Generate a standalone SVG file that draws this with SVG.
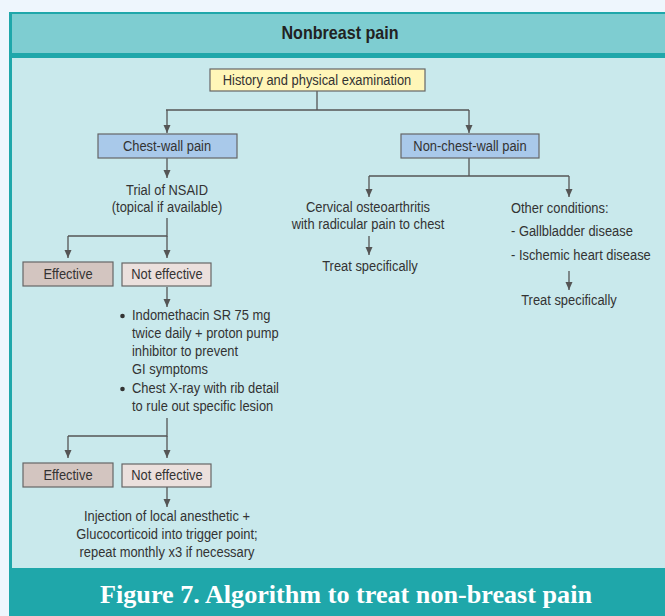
<svg xmlns="http://www.w3.org/2000/svg" width="665" height="616" viewBox="0 0 665 616">
<defs>
<marker id="ah" viewBox="0 0 8 8" refX="8" refY="4" markerWidth="8" markerHeight="8" markerUnits="userSpaceOnUse" orient="auto">
<path d="M0,0.5 L8,4 L0,7.5 Z" fill="#555"/>
</marker>
<style>
.t{font-family:"Liberation Sans",Arial,sans-serif;font-size:14.5px;fill:#333}
.m{text-anchor:middle}
.box{stroke:#666;stroke-width:1.2}
.c{fill:none;stroke:#555;stroke-width:1.3}
</style>
</defs>
<rect x="0" y="0" width="665" height="616" fill="#eef6fd"/>
<rect x="9" y="12" width="670" height="604" fill="#1fa7aa"/>
<rect x="12" y="14" width="670" height="39" fill="#7ecdd1"/>
<rect x="12" y="58" width="670" height="510" fill="#c9e9ec"/>
<g transform="translate(340 0) scale(0.92 1)"><text x="0" y="39.5" text-anchor="middle" font-family="Liberation Sans,Arial,sans-serif" font-size="17.5" font-weight="bold" fill="#222">Nonbreast pain</text></g>
<text x="346" y="603" text-anchor="middle" font-family="Liberation Serif,'Times New Roman',serif" font-size="26" font-weight="bold" fill="#ffffff" textLength="492" lengthAdjust="spacingAndGlyphs">Figure 7. Algorithm to treat non-breast pain</text>

<g id="connectors">
<path class="c" d="M317,91 V110 M166,110 H469"/>
<path class="c" d="M167,110 V133" marker-end="url(#ah)"/>
<path class="c" d="M469,110 V133" marker-end="url(#ah)"/>
<path class="c" d="M167,158 V178" marker-end="url(#ah)"/>
<path class="c" d="M167,218 V236 H68"/>
<path class="c" d="M68,236 V258" marker-end="url(#ah)"/>
<path class="c" d="M167,236 V258" marker-end="url(#ah)"/>
<path class="c" d="M167,287 V307" marker-end="url(#ah)"/>
<path class="c" d="M167,418 V436 H68"/>
<path class="c" d="M68,436 V458" marker-end="url(#ah)"/>
<path class="c" d="M167,436 V458" marker-end="url(#ah)"/>
<path class="c" d="M167,487 V507" marker-end="url(#ah)"/>
<path class="c" d="M469,158 V176 M369,176 H569"/>
<path class="c" d="M369,176 V197" marker-end="url(#ah)"/>
<path class="c" d="M569,176 V197" marker-end="url(#ah)"/>
<path class="c" d="M369,236 V255" marker-end="url(#ah)"/>
<path class="c" d="M569,271 V290" marker-end="url(#ah)"/>
</g>

<g id="history">
<rect class="box" x="210" y="69" width="215" height="22" fill="#fff6b8"/>
<g transform="translate(317 0) scale(0.89 1)"><text class="t m" x="0" y="85.5">History and physical examination</text></g>
</g>
<g id="chestwall">
<rect class="box" x="98" y="134" width="139" height="24" fill="#a9c9ea"/>
<g transform="translate(167 0) scale(0.89 1)"><text class="t m" x="0" y="151.5">Chest-wall pain</text></g>
</g>
<g id="nonchestwall">
<rect class="box" x="401" y="134" width="138" height="24" fill="#a9c9ea"/>
<g transform="translate(470 0) scale(0.89 1)"><text class="t m" x="0" y="151.5">Non-chest-wall pain</text></g>
</g>
<g id="nsaid" transform="translate(167 0) scale(0.89 1)">
<text class="t m" x="0" y="195">Trial of NSAID</text>
<text class="t m" x="0" y="212">(topical if available)</text>
</g>
<g id="effective1">
<rect class="box" x="23" y="262" width="90" height="24" fill="#d3c5c0"/>
<g transform="translate(68 0) scale(0.89 1)"><text class="t m" x="0" y="279.5">Effective</text></g>
</g>
<g id="noteffective1">
<rect class="box" x="122" y="263" width="89" height="23" fill="#ebe0dd"/>
<g transform="translate(167 0) scale(0.89 1)"><text class="t m" x="0" y="279.5">Not effective</text></g>
</g>
<g id="indomethacin">
<circle cx="122.5" cy="316" r="2.3" fill="#333"/>
<circle cx="122.5" cy="389" r="2.3" fill="#333"/>
<g transform="translate(132 0) scale(0.89 1)">
<text class="t" x="0" y="320">Indomethacin SR 75 mg</text>
<text class="t" x="0" y="338">twice daily + proton pump</text>
<text class="t" x="0" y="356">inhibitor to prevent</text>
<text class="t" x="0" y="374">GI symptoms</text>
<text class="t" x="0" y="393">Chest X-ray with rib detail</text>
<text class="t" x="0" y="411">to rule out specific lesion</text>
</g>
</g>
<g id="effective2">
<rect class="box" x="23" y="463" width="90" height="24" fill="#d3c5c0"/>
<g transform="translate(68 0) scale(0.89 1)"><text class="t m" x="0" y="480.5">Effective</text></g>
</g>
<g id="noteffective2">
<rect class="box" x="122" y="464" width="89" height="23" fill="#ebe0dd"/>
<g transform="translate(167 0) scale(0.89 1)"><text class="t m" x="0" y="480.5">Not effective</text></g>
</g>
<g id="injection" transform="translate(167 0) scale(0.89 1)">
<text class="t m" x="0" y="521">Injection of local anesthetic +</text>
<text class="t m" x="0" y="539">Glucocorticoid into trigger point;</text>
<text class="t m" x="0" y="557">repeat monthly x3 if necessary</text>
</g>
<g id="cervical" transform="translate(368 0) scale(0.89 1)">
<text class="t m" x="0" y="212">Cervical osteoarthritis</text>
<text class="t m" x="0" y="229">with radicular pain to chest</text>
</g>
<g id="treat1" transform="translate(370 0) scale(0.89 1)">
<text class="t m" x="0" y="271">Treat specifically</text>
</g>
<g id="other" transform="translate(511 0) scale(0.89 1)">
<text class="t" x="0" y="213">Other conditions:</text>
<text class="t" x="0" y="236">- Gallbladder disease</text>
<text class="t" x="0" y="260">- Ischemic heart disease</text>
</g>
<g id="treat2" transform="translate(569 0) scale(0.89 1)">
<text class="t m" x="0" y="305">Treat specifically</text>
</g>
</svg>
